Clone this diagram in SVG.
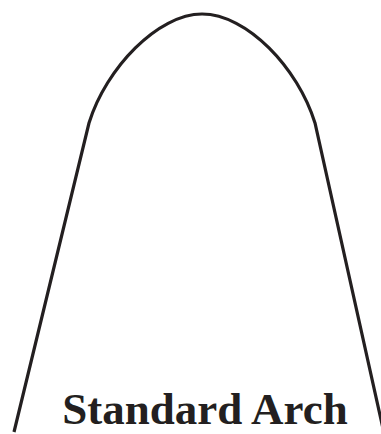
<svg xmlns="http://www.w3.org/2000/svg" width="381" height="434" viewBox="0 0 381 434">
<style>
.arch{fill:none;stroke:#231f20;stroke-width:3.2;stroke-linejoin:miter}
.label{font-family:"Liberation Serif",serif;font-weight:bold;font-size:45px;fill:#231f20}
</style>
<rect width="381" height="434" fill="#fff"/>
<g id="arch">
<path class="arch" d="M14,432 L89,123 C106,68 158,14 202,14 C247,14 298,68 315,123 L384,433"/>
</g>
<g id="title">
<text class="label" x="205" y="424" text-anchor="middle">Standard Arch</text>
</g>
</svg>
